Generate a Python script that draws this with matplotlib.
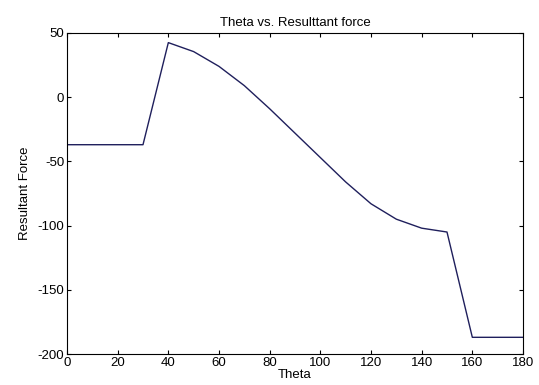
import matplotlib
matplotlib.use("Agg")
import matplotlib.pyplot as plt

theta = [0, 10, 20, 30, 40, 50, 60, 70, 80, 90, 100, 110, 120, 130, 140, 150, 160, 170, 180]
force = [-37, -37, -37, -37, 42.5, 35.5, 24, 9, -9, -28, -47, -66, -83, -95, -102, -105, -187, -187, -187]

plt.rcParams["font.family"] = ["Liberation Sans", "DejaVu Sans"]
plt.rcParams["font.size"] = 9.5
plt.rcParams["axes.unicode_minus"] = False

fig = plt.figure(figsize=(5.39, 3.85), dpi=100)
ax = fig.add_axes([0.1243, 0.0805, 0.846, 0.8338])
ax.plot(theta, force, color="#1f1f5c", linewidth=1.0)

ax.set_xlim(0, 180)
ax.set_ylim(-200, 50)
ax.set_xticks(range(0, 181, 20))
ax.set_yticks(range(-200, 51, 50))
ax.tick_params(direction="in", top=True, right=True, length=3, pad=2, labelsize=9.5)
for s in ax.spines.values():
    s.set_linewidth(0.8)

ax.set_title("Theta vs. Resulttant force", fontsize=9.5, pad=5)
ax.set_xlabel("Theta", fontsize=9.5, labelpad=0)
ax.set_ylabel("Resultant Force", fontsize=9.5, labelpad=5)

fig.savefig("out.png", dpi=100)
